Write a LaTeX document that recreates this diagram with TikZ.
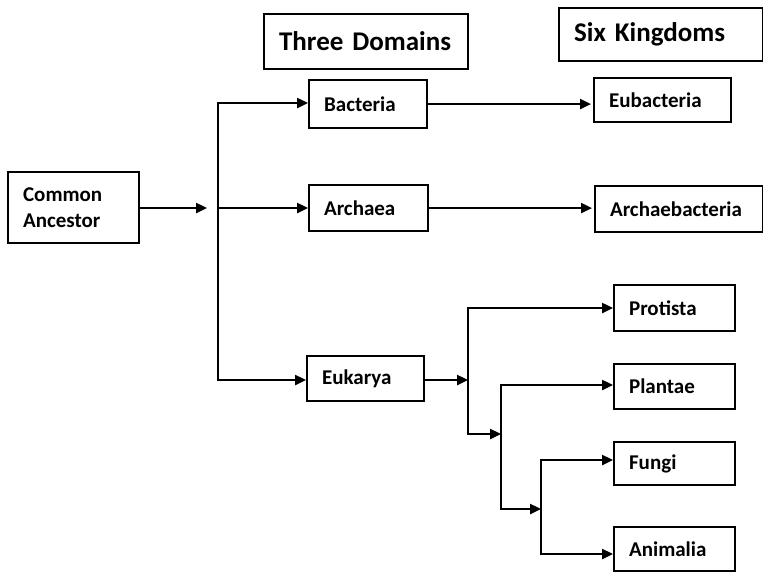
\documentclass[tikz,border=0pt]{standalone}
\usepackage{fontspec}
\setmainfont{Carlito}
\usetikzlibrary{arrows.meta}

\newcommand{\boxfont}{\fontsize{21}{26}\selectfont\bfseries}
\newcommand{\titlefont}{\fontsize{27}{33}\selectfont\bfseries}

\tikzset{
  box/.style={draw, line width=2.2pt, rectangle, anchor=north west,
    inner xsep=15pt, inner ysep=0pt, align=left, font=\boxfont},
  titlebox/.style={box, font=\titlefont},
  link/.style={line width=2.4pt, line cap=rect, line join=miter},
  arr/.style={link, -{Triangle[length=11pt,width=10pt]}},
}

\begin{document}
\begin{tikzpicture}[x=1pt, y=-1pt]
  \useasboundingbox (0,0) rectangle (763,571);

  % headings
  \node[titlebox, text width=174pt, minimum height=55pt] (td) at (263,13) {\mbox{Three Domains}};
  \node[titlebox, text width=174pt, minimum height=53pt] (sk) at (558,7) {\mbox{Six Kingdoms}};

  % root
  \node[box, text width=101pt, minimum height=71pt] (ca) at (7,171) {Common\\Ancestor};

  % domains
  \node[box, text width=88pt, minimum height=48pt] (bac) at (308,79) {Bacteria};
  \node[box, text width=89pt, minimum height=46pt] (arc) at (308,184) {Archaea};
  \node[box, text width=87pt, minimum height=45pt] (euk) at (306,355) {Eukarya};

  % kingdoms
  \node[box, text width=107pt, minimum height=44pt] (eub) at (593,77) {Eubacteria};
  \node[box, text width=138pt, minimum height=46pt] (arb) at (594,185) {\mbox{Archaebacteria}};
  \node[box, text width=91pt, minimum height=46pt] (pro) at (613,284) {Protista};
  \node[box, text width=91pt, minimum height=45pt] (pla) at (613,363) {Plantae};
  \node[box, text width=91pt, minimum height=43pt] (fun) at (613,441) {Fungi};
  \node[box, text width=91pt, minimum height=44pt] (ani) at (613,526) {Animalia};

  % branch points
  \coordinate (j0) at (218,208);
  \coordinate (tA) at (218,103);
  \coordinate (tE) at (218,380);
  \coordinate (k1) at (468,380);
  \coordinate (k1t) at (468,308);
  \coordinate (k1b) at (468,434);
  \coordinate (k2) at (501,434);
  \coordinate (k2t) at (501,385);
  \coordinate (k2b) at (501,509);
  \coordinate (k3) at (541,509);
  \coordinate (k3t) at (541,460);
  \coordinate (k3b) at (541,554);

  % common ancestor to the three domains
  \draw[arr, shorten >=11pt] (ca.east |- j0) -- (j0);
  \draw[link] (tA) -- (tE);
  \draw[arr] (tA) -- (tA -| bac.west);
  \draw[arr] (j0) -- (j0 -| arc.west);
  \draw[arr] (tE) -- (tE -| euk.west);

  % prokaryote domains to kingdoms
  \draw[arr, shorten >=2pt] (bac.east) -- (bac.east -| eub.west);
  \draw[arr, shorten >=2pt] (arc.east) -- (arc.east -| arb.west);

  % eukaryote branching
  \draw[arr] (euk.east |- k1) -- (k1);
  \draw[link] (k1t) -- (k1b);
  \draw[arr] (k1t) -- (k1t -| pro.west);
  \draw[arr] (k1b) -- (k2);
  \draw[link] (k2t) -- (k2b);
  \draw[arr] (k2t) -- (k2t -| pla.west);
  \draw[arr] (k2b) -- (k3);
  \draw[link] (k3t) -- (k3b);
  \draw[arr] (k3t) -- (k3t -| fun.west);
  \draw[arr] (k3b) -- (k3b -| ani.west);
\end{tikzpicture}
\end{document}
